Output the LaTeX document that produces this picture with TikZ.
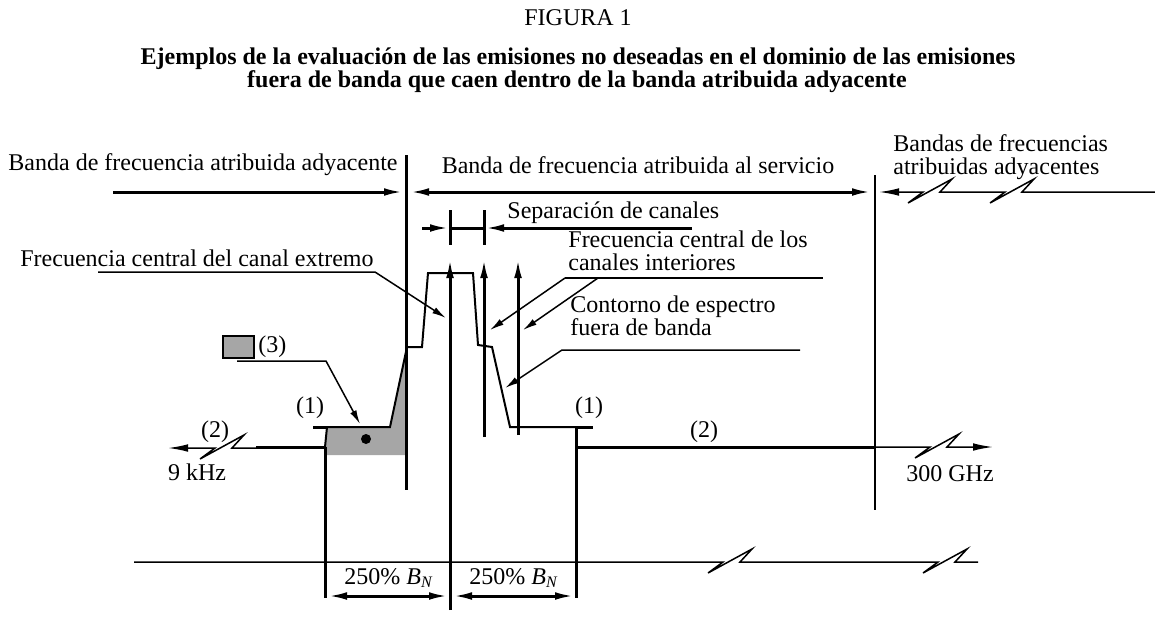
\documentclass[tikz,border=0pt]{standalone}
\usepackage{fontspec}
\setmainfont{Liberation Serif}
\usetikzlibrary{arrows.meta,positioning}

\definecolor{fillgray}{RGB}{166,166,166}

\begin{document}
\begin{tikzpicture}[x=0.5pt,y=-0.5pt,
		every node/.style={inner sep=0pt, font=\fontsize{12}{11.5}\selectfont},
		title/.style={font=\fontsize{12}{11.5}\selectfont\bfseries},
		thk/.style={line width=1.5pt},
		thn/.style={line width=0.75pt},
		tip/.style={-{Latex[length=10pt,width=3.8pt]}},
		tipl/.style={{Latex[length=10pt,width=3.8pt]}-},
		tips/.style={{Latex[length=10pt,width=3.8pt]}-{Latex[length=10pt,width=3.8pt]}},
		ltip/.style={-{Latex[length=7pt,width=3.4pt]}},
		brk/.style={insert path={-- ++(-15,11) -- ++(44,-24) -- ++(-12,13)}}]
		\useasboundingbox (0,0) rectangle (1155,621);

		% titles
		\node (fig)  at (578,18) {FIGURA 1};
		\node[title] (tit1) at (578,59) {Ejemplos de la evaluación de las emisiones no deseadas en el dominio de las emisiones};
		\node[title] (tit2) at (577,82) {fuera de banda que caen dentro de la banda atribuida adyacente};

		% band texts
		\node (adjband)  at (203,165) {Banda de frecuencia atribuida adyacente};
		\node (servband) at (638,165) {Banda de frecuencia atribuida al servicio};
		\node[anchor=west, align=left] (adjbands) at (893,157) {Bandas de frecuencias\\atribuidas adyacentes};
		\node[anchor=west] (chsep)    at (507,213) {Separación de canales};
		\node[anchor=west] (edgefreq) at (20,258) {Frecuencia central del canal extremo};
		\node[anchor=west, align=left] (innerfreq) at (568,251) {Frecuencia central de los\\canales interiores};
		\node[anchor=west, align=left] (oob) at (570,316) {Contorno de espectro\\fuera de banda};
		\node[anchor=west] (leg3) at (258,347) {(3)};
		\node (one-l) at (310,408) {(1)};
		\node (one-r) at (589,408) {(1)};
		\node (two-l) at (215,432) {(2)};
		\node (two-r) at (704,432) {(2)};
		\node (lowend)  at (197,472) {9 kHz};
		\node (highend) at (950,474) {300 GHz};
		\node (bn-l) at (389,578) {250\% \textit{B}\textsubscript{\textit{N}}};
		\node (bn-r) at (514,578) {250\% \textit{B}\textsubscript{\textit{N}}};

		% points
		\coordinate (bndA) at (406,155);  \coordinate (bndAb) at (406,490);
		\coordinate (bndB) at (875,175);  \coordinate (bndBb) at (875,510);
		\coordinate (c0) at (450,610);  \coordinate (c1) at (484,437);  \coordinate (c2) at (518,435);
		\coordinate (eL) at (325,447);  \coordinate (eR) at (576,427);

		% grey area and spectrum
		\fill[fillgray] (eL) -- (327,427) -- (390,427) -- (406,352) -- (406,455) -- (325,455) -- cycle;
		\draw[line width=1pt, line join=miter] (eL) -- (327,427) -- (390,427) -- (407,347) -- (422,347)
			-- (428,273) -- (473,273) -- (478,345) -- (492,347) -- (510,427) -- (eR);
		\draw[thk] (313,427) -- (328,427);
		\draw[thk] (eR) -- (593,427);
		\fill (366,439) circle (5);

		% band boundaries
		\draw[thk] (bndA) -- (bndAb);
		\draw[thn] (bndB) -- (bndBb);
		\draw[thk, tip]  (113,192) -- (404,192);
		\draw[thk, tips] (409,192) -- (872,192);
		\draw[thn, tipl] (879,192) -- (923,192) [brk] -- (1005,192) [brk] -- (1155,192);

		% frequency axis
		\draw[thn, tipl] (168,448) -- (215,448) [brk] -- (256,448);
		\draw[thk] (256,447) -- (eL);
		\draw[thk] (eR |- eL) -- (bndB |- eL);
		\draw[thn, tip] (bndB |- eL) -- (930,447) [brk] -- (993,447);
		\draw[thn] (134,562) -- (723,562) [brk] -- (938,562) [brk] -- (978,562);

		% channel centres
		\foreach \c in {c0, c1, c2}
			\draw[thk, tip] (\c) -- (\c |- 0,258);
		\foreach \x in {450, 484}
			\draw[thk] (\x,210) -- (\x,245);
		\draw[thk, tip] (422,228) -- (450,228);
		\draw[thk] (450,228) -- (484,228);
		\draw[thk, tip] (692,228) -- (484,228);

		% 250% dimensions
		\draw[thk] (eL) -- (325,598);
		\draw[thk] (eR) -- (576,598);
		\draw[thk, tips] (327,596) -- (449,596);
		\draw[thk, tips] (452,596) -- (575,596);

		% leaders
		\draw[thn, ltip] (98,272) -- (375,272) -- (446,318);
		\draw[thn] (565,278) -- (823,278);
		\draw[thn, ltip] (565,278) -- (490,330);
		\draw[thn, ltip] (598,278) -- (523,330);
		\draw[thn, ltip] (800,350) -- (562,350) -- (505,388);
		\draw[thn, fill=fillgray] (223,336) rectangle (254,358);
		\draw[thn, ltip] (237,361) -- (326,361) -- (360,424);
	\end{tikzpicture}
\end{document}
